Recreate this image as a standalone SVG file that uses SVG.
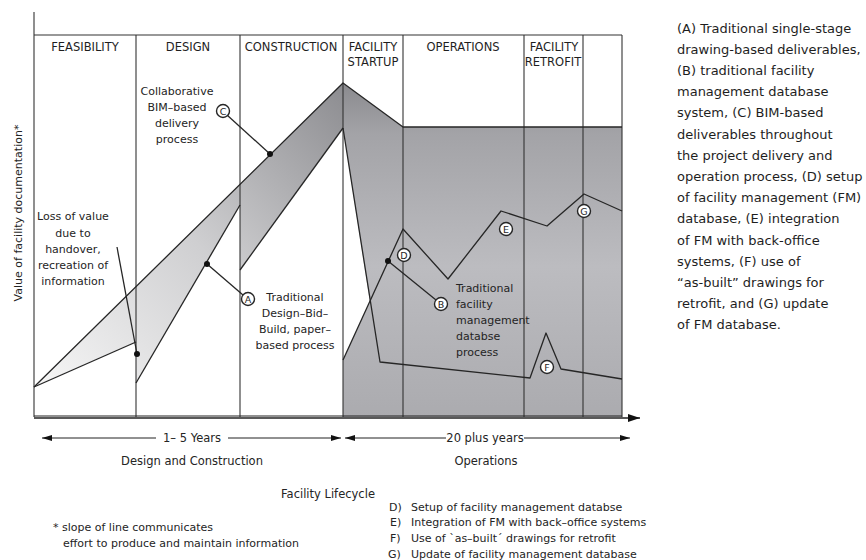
<svg xmlns="http://www.w3.org/2000/svg" width="866" height="560" viewBox="0 0 866 560">
  <style>
    .ln { fill: none; stroke: #262626; stroke-width: 1.3; stroke-linejoin: round; }
    .col { fill: none; stroke: #333; stroke-width: 1.1; }
    .hdr { font-family: "DejaVu Sans", sans-serif; font-size: 11.5px; fill: #1e1e1e; text-anchor: middle; }
    .lbl { font-family: "DejaVu Sans", sans-serif; font-size: 11px; fill: #242424; }
    .mid { text-anchor: middle; }
    .para { font-family: "DejaVu Sans", sans-serif; font-size: 13px; fill: #1e1e1e; }
    .tag circle { fill: #fff; stroke: #262626; stroke-width: 1.4; }
    .tag text { font-family: "DejaVu Sans", sans-serif; font-size: 9.5px; fill: #1e1e1e; text-anchor: middle; }
    .dot { fill: #111; }
    .dim { stroke: #222; stroke-width: 1; }
  </style>
  <defs>
    <linearGradient id="bandGrad" gradientUnits="userSpaceOnUse" x1="34" y1="387" x2="343" y2="83">
      <stop offset="0" stop-color="#f6f6f6"/>
      <stop offset="0.5" stop-color="#cfcfd1"/>
      <stop offset="1" stop-color="#8c8c90"/>
    </linearGradient>
    <linearGradient id="opsGrad" gradientUnits="userSpaceOnUse" x1="0" y1="83" x2="0" y2="417">
      <stop offset="0" stop-color="#8a8a8e"/>
      <stop offset="0.15" stop-color="#a3a3a7"/>
      <stop offset="0.55" stop-color="#bcbcc0"/>
      <stop offset="1" stop-color="#ababaf"/>
    </linearGradient>
    <marker id="ah" viewBox="0 0 10 6" refX="10" refY="3" markerWidth="10" markerHeight="6" markerUnits="userSpaceOnUse" orient="auto-start-reverse">
      <path d="M0,0 L10,3 L0,6 z" fill="#111"/>
    </marker>
    <marker id="axisHead" viewBox="0 0 12 8" refX="12" refY="4" markerWidth="12" markerHeight="8" markerUnits="userSpaceOnUse" orient="auto">
      <path d="M0,0 L12,4 L0,8 z" fill="#111"/>
    </marker>
  </defs>

  <!-- shaded value regions -->
  <g id="design-band">
    <polygon points="34,387 343,83 343,128 240,270 240,205 136,383 136,342" fill="url(#bandGrad)"/>
  </g>
  <g id="operations-band">
    <polygon points="343,83 403,127 622,127 622,417 343,417 343,360 370,302 343,128" fill="url(#opsGrad)"/>
  </g>

  <!-- frame and phase columns -->
  <g id="frame">
    <line class="col" x1="34" y1="35" x2="622" y2="35"/>
    <line class="col" x1="34" y1="12" x2="34" y2="417"/>
    <line class="col" x1="136" y1="35" x2="136" y2="417"/>
    <line class="col" x1="240" y1="35" x2="240" y2="417"/>
    <line class="col" x1="343" y1="35" x2="343" y2="417"/>
    <line class="col" x1="403" y1="35" x2="403" y2="417"/>
    <line class="col" x1="524" y1="35" x2="524" y2="417"/>
    <line class="col" x1="583" y1="35" x2="583" y2="417"/>
    <line class="col" x1="622" y1="35" x2="622" y2="417"/>
    <line x1="34" y1="416" x2="622" y2="416" stroke="#222" stroke-width="1"/>
    <line x1="34" y1="418" x2="640" y2="418" stroke="#222" stroke-width="1.6" marker-end="url(#axisHead)"/>
  </g>

  <!-- phase headers -->
  <g id="headers">
    <text class="hdr" x="85" y="51">FEASIBILITY</text>
    <text class="hdr" x="188" y="51">DESIGN</text>
    <text class="hdr" x="291" y="51">CONSTRUCTION</text>
    <text class="hdr" x="373" y="51">FACILITY</text>
    <text class="hdr" x="373" y="66">STARTUP</text>
    <text class="hdr" x="463" y="51">OPERATIONS</text>
    <text class="hdr" x="554" y="51">FACILITY</text>
    <text class="hdr" x="553" y="66">RETROFIT</text>
  </g>

  <!-- curves and pointers -->
  <g id="connectors">
    <!-- C: BIM-based upper line -->
    <polyline class="ln" points="34,387 343,83 403,127 622,127"/>
    <!-- A: traditional sawtooth -->
    <polyline class="ln" points="34,387 136,342"/>
    <polyline class="ln" points="136,383 240,205"/>
    <polyline class="ln" points="240,270 343,128"/>
    <!-- B: traditional FM database -->
    <polyline class="ln" points="343,128 380,362 530,378 546,333 561,369 622,379"/>
    <!-- D/E/G: BIM-enabled FM -->
    <polyline class="ln" points="343,360 403,229 448,279 501,211 547,226 584,194 622,211"/>
    <!-- pointers -->
    <line class="ln" x1="117" y1="247" x2="137" y2="354"/>
    <line class="ln" x1="207" y1="264" x2="243" y2="295"/>
    <line class="ln" x1="227" y1="115" x2="270" y2="154"/>
    <line class="ln" x1="388" y1="261" x2="436" y2="300"/>
    <circle class="dot" cx="137" cy="354" r="3"/>
    <circle class="dot" cx="207" cy="264" r="3"/>
    <circle class="dot" cx="270" cy="154" r="3"/>
    <circle class="dot" cx="388" cy="261" r="3"/>
  </g>

  <!-- lettered markers -->
  <g id="tag-A" class="tag"><circle cx="248" cy="299" r="6.5"/><text x="248" y="302.5">A</text></g>
  <g id="tag-B" class="tag"><circle cx="441" cy="304" r="6.5"/><text x="441" y="307.5">B</text></g>
  <g id="tag-C" class="tag"><circle cx="223" cy="111" r="6.5"/><text x="223" y="114.5">C</text></g>
  <g id="tag-D" class="tag"><circle cx="404" cy="255" r="6.5"/><text x="404" y="258.5">D</text></g>
  <g id="tag-E" class="tag"><circle cx="506" cy="229" r="6.5"/><text x="506" y="232.5">E</text></g>
  <g id="tag-F" class="tag"><circle cx="547" cy="367" r="6.5"/><text x="547" y="370.5">F</text></g>
  <g id="tag-G" class="tag"><circle cx="584" cy="211" r="6.5"/><text x="584" y="214.5">G</text></g>

  <!-- in-chart labels -->
  <g id="label-C">
    <text class="lbl mid" x="177" y="95">Collaborative</text>
    <text class="lbl mid" x="177" y="111">BIM–based</text>
    <text class="lbl mid" x="177" y="127">delivery</text>
    <text class="lbl mid" x="177" y="143">process</text>
  </g>
  <g id="label-loss">
    <text class="lbl mid" x="73" y="220">Loss of value</text>
    <text class="lbl mid" x="73" y="237">due to</text>
    <text class="lbl mid" x="73" y="253">handover,</text>
    <text class="lbl mid" x="73" y="269">recreation of</text>
    <text class="lbl mid" x="73" y="285">information</text>
  </g>
  <g id="label-A">
    <text class="lbl mid" x="295" y="301">Traditional</text>
    <text class="lbl mid" x="295" y="317">Design–Bid–</text>
    <text class="lbl mid" x="295" y="333">Build, paper–</text>
    <text class="lbl mid" x="295" y="349">based process</text>
  </g>
  <g id="label-B">
    <text class="lbl" x="456" y="292">Traditional</text>
    <text class="lbl" x="456" y="308">facility</text>
    <text class="lbl" x="456" y="324">management</text>
    <text class="lbl" x="456" y="340">databse</text>
    <text class="lbl" x="456" y="356">process</text>
  </g>

  <!-- y-axis title -->
  <text class="lbl mid" transform="translate(22,213) rotate(-90)">Value of facility documentation*</text>

  <!-- time spans -->
  <g id="spans">
    <line class="dim" x1="42" y1="438" x2="156" y2="438" marker-start="url(#ah)"/>
    <line class="dim" x1="228" y1="438" x2="341" y2="438" marker-end="url(#ah)"/>
    <text class="lbl mid" x="192" y="442" style="font-size:11.5px">1– 5 Years</text>
    <line class="dim" x1="345" y1="438" x2="446" y2="438" marker-start="url(#ah)"/>
    <line class="dim" x1="524" y1="438" x2="630" y2="438" marker-end="url(#ah)"/>
    <text class="lbl mid" x="485" y="442" style="font-size:11.5px">20 plus years</text>
    <text class="lbl mid" x="192" y="465" style="font-size:11.5px">Design and Construction</text>
    <text class="lbl mid" x="486" y="465" style="font-size:11.5px">Operations</text>
    <text class="lbl mid" x="328" y="498" style="font-size:11.5px">Facility Lifecycle</text>
  </g>

  <!-- notes -->
  <g id="footnote">
    <text class="lbl" x="53" y="531">* slope of line communicates</text>
    <text class="lbl" x="63" y="547">effort to produce and maintain information</text>
  </g>
  <g id="legend">
    <text class="lbl" x="389" y="511">D)</text><text class="lbl" x="411" y="511">Setup of facility management databse</text>
    <text class="lbl" x="390" y="526">E)</text><text class="lbl" x="411" y="526">Integration of FM with back–office systems</text>
    <text class="lbl" x="390" y="542">F)</text><text class="lbl" x="411" y="542">Use of `as–built´ drawings for retrofit</text>
    <text class="lbl" x="388" y="558">G)</text><text class="lbl" x="411" y="558">Update of facility management database</text>
  </g>

  <!-- side caption -->
  <g id="caption">
    <text class="para" x="677" y="32.5">(A) Traditional single-stage</text>
    <text class="para" x="677" y="53.7">drawing-based deliverables,</text>
    <text class="para" x="677" y="74.9">(B) traditional facility</text>
    <text class="para" x="677" y="96.1">management database</text>
    <text class="para" x="677" y="117.3">system, (C) BIM-based</text>
    <text class="para" x="677" y="138.5">deliverables throughout</text>
    <text class="para" x="677" y="159.7">the project delivery and</text>
    <text class="para" x="677" y="180.9">operation process, (D) setup</text>
    <text class="para" x="677" y="202.1">of facility management (FM)</text>
    <text class="para" x="677" y="223.3">database, (E) integration</text>
    <text class="para" x="677" y="244.5">of FM with back-office</text>
    <text class="para" x="677" y="265.7">systems, (F) use of</text>
    <text class="para" x="677" y="286.9">“as-built” drawings for</text>
    <text class="para" x="677" y="308.1">retrofit, and (G) update</text>
    <text class="para" x="677" y="329.3">of FM database.</text>
  </g>
</svg>
